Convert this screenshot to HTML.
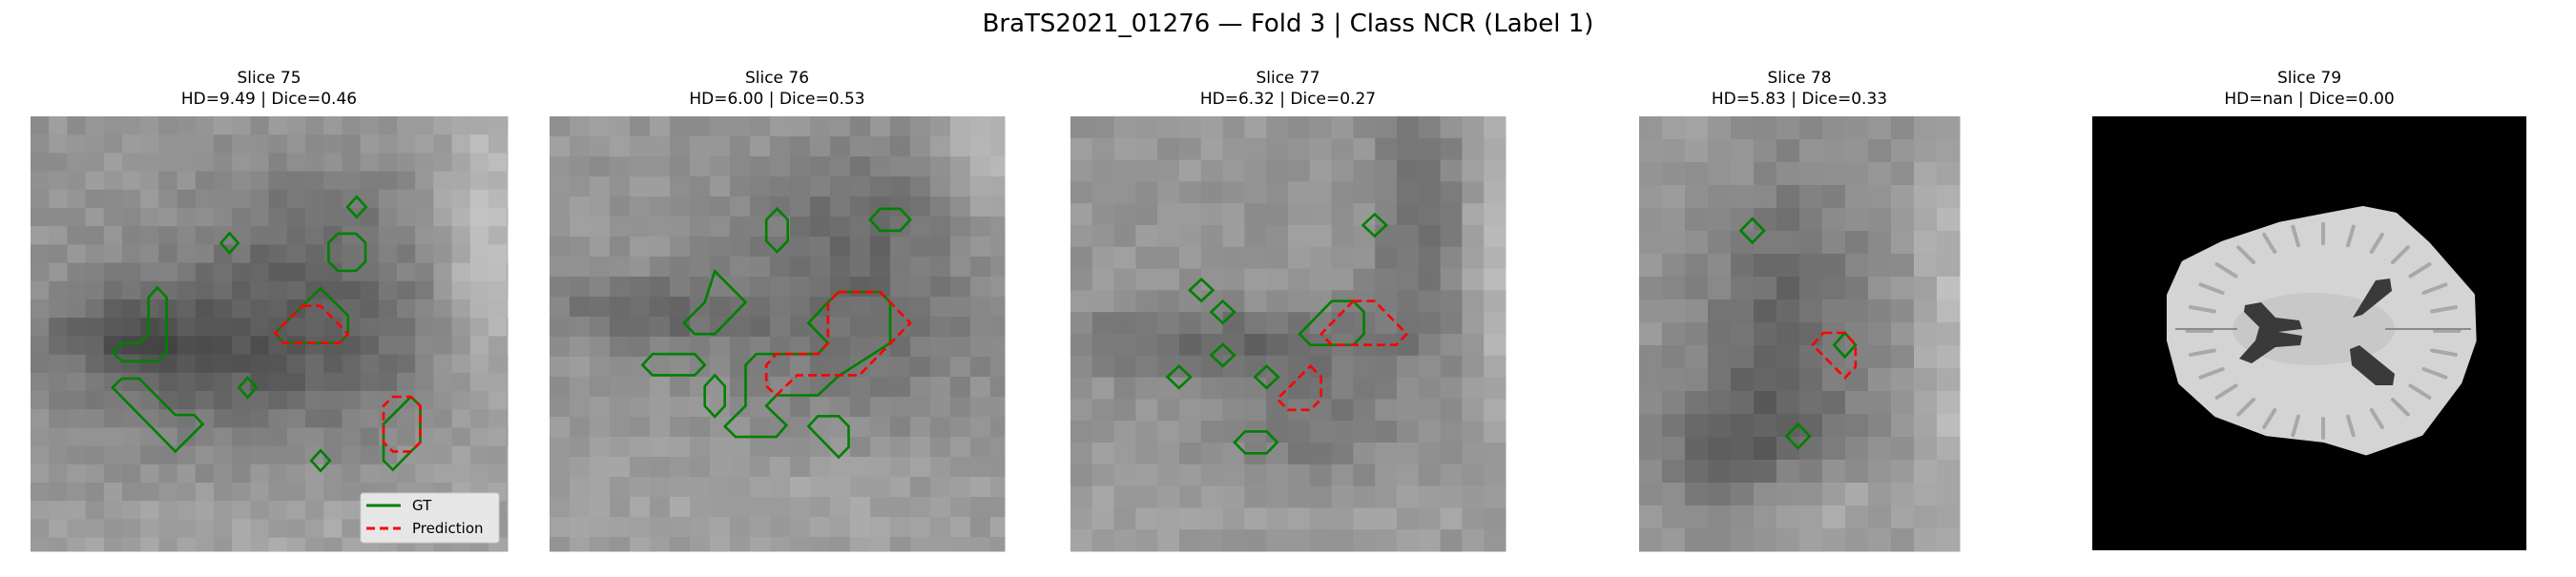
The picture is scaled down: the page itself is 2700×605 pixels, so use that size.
<!DOCTYPE html>
<html><head><meta charset="utf-8"><style>
html,body{margin:0;padding:0;background:#fff;}
svg text{font-family:"DejaVu Sans","Liberation Sans",sans-serif;fill:#000;}
</style></head><body>
<svg id="fig" width="2700" height="600" viewBox="0 0 2700 600" xmlns="http://www.w3.org/2000/svg">
<text x="1350" y="33" text-anchor="middle" font-size="26">BraTS2021_01276 — Fold 3 | Class NCR (Label 1)</text>
<g id="panels"></g>
</svg>
<script>
const titles=["Slice 75","Slice 76","Slice 77","Slice 78","Slice 79"];
const hdValues=["9.49","6.00","6.32","5.83","nan"];
const diceValues=["0.46","0.53","0.27","0.33","0.00"];
const NS="http://www.w3.org/2000/svg";
const G=document.getElementById('panels');
function mk(t,a,p){const e=document.createElementNS(NS,t);for(const k in a)e.setAttribute(k,a[k]);(p||G).appendChild(e);return e;}
const boxes=[[32,122,532,578,19.2],[576,122,1053,578,21],[1122,122,1578,578,22.8],[1718,122,2054,578,24],[2193,122,2648,577,0]];
const blobs=[
 [[0.45,0.55,0.4,0.2,55],[0.6,0.3,0.25,0.2,35],[0.2,0.5,0.15,0.08,40],[0.95,0.3,0.1,0.4,-45],[0.5,0.95,0.5,0.1,-15]],
 [[0.2,0.45,0.2,0.08,45],[0.65,0.45,0.3,0.25,40],[0.7,0.2,0.2,0.15,25],[0.95,0.1,0.08,0.15,-40],[0.5,0.9,0.5,0.15,-15]],
 [[0.3,0.52,0.4,0.08,40],[0.8,0.25,0.1,0.3,40],[0.55,0.7,0.2,0.2,30],[0.97,0.3,0.06,0.4,-35],[0.5,0.9,0.5,0.1,-15]],
 [[0.45,0.45,0.25,0.35,45],[0.3,0.75,0.3,0.15,40],[0.15,0.1,0.3,0.1,-10],[0.95,0.5,0.08,0.5,-35],[0.55,0.9,0.2,0.1,-30]]
];
function hash(i,j,k){const s=Math.sin(i*12.9898+j*78.233+k*37.719)*43758.5453;return s-Math.floor(s);}
boxes.forEach((b,p)=>{
 const [x0,y0,x1,y1,c]=b;const cx=(x0+x1)/2;
 const pg=mk('g',{});
 
 
 const t1=mk('text',{x:cx,y:87,'text-anchor':'middle','font-size':17},pg);t1.textContent=titles[p];
 
 const t2=mk('text',{x:cx,y:109,'text-anchor':'middle','font-size':17},pg);t2.textContent='HD='+hdValues[p]+' | Dice='+diceValues[p];
 
 const img=mk('g',{},pg);
 
 if(c>0){
  const W=x1-x0,H=y1-y0;
  for(let j=0;j*c<H;j++)for(let i=0;i*c<W;i++){
   const fx=(i+0.5)*c/W,fy=(j+0.5)*c/H;let v=150;
   blobs[p].forEach(q=>{const d=((fx-q[0])/q[2])**2+((fy-q[1])/q[3])**2;v-=q[4]*Math.exp(-d);});
   v+=(hash(i,j,p)-0.5)*22;v=Math.max(60,Math.min(200,Math.round(v)));
   mk('rect',{x:x0+i*c,y:y0+j*c,width:Math.min(c,W-i*c)+0.5,height:Math.min(c,H-j*c)+0.5,fill:`rgb(${v},${v},${v})`},img);
  }
 } else {
  mk('rect',{x:x0,y:y0,width:x1-x0,height:y1-y0,fill:'#000'},img);
 }
});
const brainPts=[[255,330],[300,230],[420,170],[600,110],[860,60],[960,80],[1060,170],[1200,330],[1205,470],[1160,600],[1040,760],[870,820],[740,780],[560,760],[400,700],[290,600],[255,470]];
const bp=brainPts.map(q=>(2190+q[0]/3)+','+(200+q[1]/3)).join(' ');
const brain=mk('polygon',{points:bp,fill:'#d4d4d4',stroke:'#d4d4d4','stroke-width':8,'stroke-linejoin':'round'});

mk('ellipse',{cx:2425,cy:345,rx:85,ry:38,fill:'#c8c8c8'});
// sulci texture
for(let k=0;k<28;k++){const a=k/28*Math.PI*2;const cx=2435,cy=347;
 const r1=0.78,r2=0.95;
 mk('line',{x1:cx+Math.cos(a)*150*r1,y1:cy+Math.sin(a)*118*r1,x2:cx+Math.cos(a)*150*r2,y2:cy+Math.sin(a)*118*r2,stroke:'#a8a8a8','stroke-width':4,'stroke-linecap':'round'});}
mk('line',{x1:2280,y1:345,x2:2345,y2:345,stroke:'#8a8a8a','stroke-width':2});
mk('line',{x1:2500,y1:345,x2:2590,y2:345,stroke:'#8a8a8a','stroke-width':2});
mk('path',{d:'M2353,320 L2370,317 L2385,333 L2410,336 L2413,345 L2388,348 L2413,352 L2411,362 L2385,364 L2360,381 L2347,376 L2364,357 L2368,343 L2352,327 Z',fill:'#3a3a3a'});
mk('path',{d:'M2466,333 L2490,294 L2505,292 L2507,305 L2476,330 Z',fill:'#3a3a3a'});
mk('path',{d:'M2463,366 L2473,362 L2510,392 L2508,404 L2490,404 L2465,383 Z',fill:'#3a3a3a'});
function z1(a){return a.map(q=>(q[0]/1.4255).toFixed(1)+','+(q[1]/2.613).toFixed(1)).join(' ');}
function z2(a){return a.map(q=>(1100+q[0]/0.98).toFixed(1)+','+(q[1]/2.613).toFixed(1)).join(' ');}
function dia(x,y,w,h){return [[x,y-h],[x+w,y],[x,y+h],[x-w,y]];}
const gt1=[dia(533,567,14,28),dia(343,666,13,27),[[505,640],[532,640],[546,665],[546,717],[532,742],[505,742],[491,717],[491,665]],
 [[222,815],[235,788],[249,815],[249,965],[235,990],[182,990],[168,965],[182,940],[208,940],[222,915]],
 [[479,790],[520,865],[520,915],[507,940],[424,940],[411,912]],
 [[182,1037],[208,1037],[262,1137],[290,1137],[303,1162],[262,1237],[168,1062]],
 dia(370,1062,13,27),dia(479,1262,14,28),
 [[614,1087],[628,1112],[628,1212],[614,1237],[587,1287],[573,1262],[573,1162]],
 [[1161,572],[1177,602],[1177,660],[1161,690],[1145,660],[1145,602]],
 [[1315,572],[1345,572],[1360,602],[1345,632],[1315,632],[1300,602]],
 [[1068,743],[1114,828],[1068,915],[1038,915],[1022,885],[1053,828]],
 [[975,970],[1038,970],[1053,1000],[1038,1028],[975,1028],[960,1000]],
 [[1068,1028],[1083,1058],[1083,1112],[1068,1142],[1053,1112],[1053,1058]],
 [[1253,800],[1315,800],[1330,828],[1330,940],[1253,1030],[1222,1083],[1160,1083],[1145,1112],[1175,1165],[1160,1197],[1099,1197],[1083,1168],[1114,1112],[1114,1000],[1130,970],[1222,970],[1237,940],[1208,885],[1237,828]],
 [[1222,1140],[1253,1140],[1268,1168],[1268,1225],[1253,1253],[1208,1168]]];
const pr1=[[[452,838],[479,838],[520,915],[507,940],[424,940],[411,912]],
 [[587,1087],[614,1087],[628,1112],[628,1212],[614,1237],[587,1237],[573,1212],[573,1112]],
 [[1253,800],[1315,800],[1330,828],[1360,885],[1284,1028],[1191,1028],[1160,1083],[1145,1058],[1145,1000],[1160,970],[1222,970],[1237,940],[1237,828]]];
const gt2=[dia(334,617,12,30),dia(156,795,12,30),dia(178,855,12,30),dia(178,973,12,30),dia(133,1033,12,30),dia(223,1033,12,30),
 [[290,825],[312,825],[323,855],[323,915],[312,945],[268,945],[257,915]],
 [[201,1182],[223,1182],[234,1212],[223,1242],[201,1242],[190,1212]],
 dia(722,632,12,33),dia(817,945,11,33),dia(769,1195,12,33)];
const pr2=[[[312,825],[334,825],[367,915],[356,945],[290,945],[279,915]],
 [[268,1003],[279,1033],[279,1093],[268,1123],[245,1123],[234,1093]],
 [[795,912],[817,912],[828,945],[828,1005],[817,1035],[784,945]]];
gt1.forEach(a=>{const e=mk('polygon',{points:z1(a),fill:'none',stroke:'#008000','stroke-width':2.6});});
gt2.forEach(a=>{const e=mk('polygon',{points:z2(a),fill:'none',stroke:'#008000','stroke-width':2.6});});
pr1.forEach(a=>{const e=mk('polygon',{points:z1(a),fill:'none',stroke:'#ff0000','stroke-width':2.6,'stroke-dasharray':'9,5'});});
pr2.forEach(a=>{const e=mk('polygon',{points:z2(a),fill:'none',stroke:'#ff0000','stroke-width':2.6,'stroke-dasharray':'9,5'});});
const lg=mk('g',{});

mk('rect',{x:378,y:517,width:145,height:52,rx:3,fill:'#ededed','fill-opacity':0.92,stroke:'#cccccc'},lg);
mk('line',{x1:384,y1:530,x2:420,y2:530,stroke:'#008000','stroke-width':3},lg);
mk('line',{x1:384,y1:554,x2:420,y2:554,stroke:'#ff0000','stroke-width':3,'stroke-dasharray':'9,5'},lg);
const l1=mk('text',{x:432,y:535,'font-size':15},lg);l1.textContent='GT';

const l2=mk('text',{x:432,y:559,'font-size':15},lg);l2.textContent='Prediction';

</script>
</body></html>
